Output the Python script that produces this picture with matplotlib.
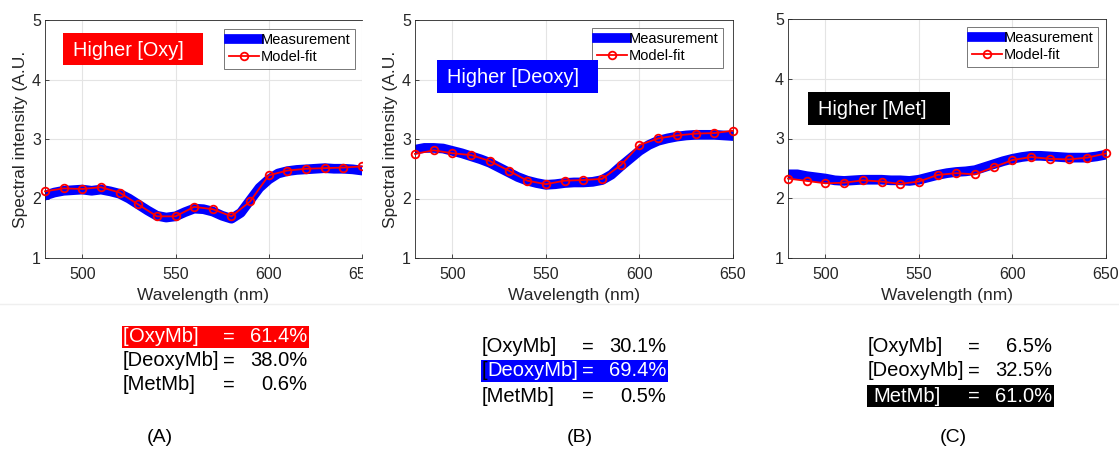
import matplotlib
matplotlib.use('Agg')
import matplotlib.pyplot as plt
from matplotlib.patches import Rectangle
from matplotlib.lines import Line2D
from matplotlib.text import Annotation

W, H, DPI = 1119, 453, 100
plt.rcParams['font.family'] = ['Liberation Sans', 'DejaVu Sans']

# Wavelength grids (nm)
wl_meas = list(range(480, 651, 5))
wl_fit = list(range(480, 651, 10))

# Measured spectra
meas_a = [2.05, 2.10, 2.13, 2.14, 2.15, 2.13, 2.15, 2.12, 2.08, 2.00, 1.90, 1.80,
          1.71, 1.68, 1.70, 1.77, 1.83, 1.82, 1.78, 1.71, 1.66, 1.76, 1.97, 2.18,
          2.32, 2.42, 2.46, 2.48, 2.49, 2.50, 2.51, 2.50, 2.50, 2.49, 2.47]
meas_b = [2.82, 2.85, 2.85, 2.84, 2.80, 2.76, 2.71, 2.66, 2.60, 2.52, 2.44, 2.36,
          2.30, 2.26, 2.23, 2.24, 2.26, 2.27, 2.27, 2.28, 2.31, 2.40, 2.54, 2.67,
          2.80, 2.90, 2.97, 3.01, 3.04, 3.06, 3.07, 3.07, 3.07, 3.06, 3.05]
meas_c = [2.40, 2.40, 2.37, 2.35, 2.33, 2.30, 2.29, 2.30, 2.31, 2.31, 2.31, 2.30,
          2.30, 2.29, 2.31, 2.35, 2.39, 2.42, 2.44, 2.45, 2.47, 2.52, 2.57, 2.62,
          2.66, 2.69, 2.71, 2.71, 2.70, 2.69, 2.68, 2.68, 2.68, 2.70, 2.73]

# Model-fit spectra
fit_a = [2.12, 2.17, 2.16, 2.19, 2.10, 1.90, 1.70, 1.70, 1.86, 1.82, 1.70, 1.95,
         2.39, 2.47, 2.50, 2.51, 2.52, 2.54]
fit_b = [2.75, 2.81, 2.76, 2.73, 2.63, 2.47, 2.30, 2.24, 2.30, 2.31, 2.33, 2.56,
         2.90, 3.01, 3.06, 3.09, 3.10, 3.14]
fit_c = [2.33, 2.29, 2.25, 2.26, 2.30, 2.28, 2.24, 2.28, 2.39, 2.42, 2.40, 2.52,
         2.64, 2.69, 2.66, 2.65, 2.68, 2.75]

x_ticks = [500, 550, 600, 650]
y_ticks = [1, 2, 3, 4, 5]

panel_titles = ['Higher [Oxy]', 'Higher [Deoxy]', 'Higher [Met]']
title_colors = ['#ff0000', '#0000ff', '#000000']
species = ['[OxyMb]', '[DeoxyMb]', '[MetMb]']
fractions_a = [61.4, 38.0, 0.6]
fractions_b = [30.1, 69.4, 0.5]
fractions_c = [6.5, 32.5, 61.0]
panel_tags = ['(A)', '(B)', '(C)']

measurements = [meas_a, meas_b, meas_c]
fits = [fit_a, fit_b, fit_c]
fractions = [fractions_a, fractions_b, fractions_c]
dominant = [0, 1, 2]
bracket_colors = ['white', 'black', 'black']

# layout in pixels
axes_px = [(45, 20, 362, 258), (415, 20, 733, 258), (788, 19, 1106, 258)]
title_box_px = [(63, 33, 203, 65), (437, 60, 598, 93), (808, 92, 950, 125)]
legend_px = [(355, 29), (723, 28), (1098, 27)]
table_x = [123, 482, 868]
table_rows = [[337, 361, 385], [347, 371, 396], [347, 371, 396]]
tag_px = [(160, 437), (580, 437), (953, 437)]
show_ylabel = [True, True, False]

fig = plt.figure(figsize=(W / DPI, H / DPI), dpi=DPI)


def fx(x):
    return x / W


def fy(y):
    return 1 - y / H


def add_rect(x0, y0, x1, y1, color, z=10):
    fig.add_artist(Rectangle((fx(x0), fy(y1)), (x1 - x0) / W, (y1 - y0) / H,
                             transform=fig.transFigure, facecolor=color,
                             edgecolor='none', zorder=z))


dark = '#262626'
for i in range(3):
    l, t, r, b = axes_px[i]
    ax = fig.add_axes([fx(l), fy(b), (r - l) / W, (b - t) / H])
    ax.plot(wl_meas, measurements[i], color='#0000ff', lw=7,
            solid_joinstyle='round', zorder=2, label='Measurement')
    ax.plot(wl_fit, fits[i], color='#ff0000', lw=1.3, marker='o', ms=5.5,
            mfc='none', mew=1.3, zorder=3, clip_on=False, label='Model-fit')
    ax.set_xlim(480, 650)
    ax.set_ylim(1, 5)
    ax.set_xticks(x_ticks)
    ax.set_yticks(y_ticks)
    ax.grid(True, color='#e4e4e4', lw=0.8)
    ax.set_axisbelow(True)
    ax.tick_params(direction='in', length=3, width=0.6, colors=dark,
                   labelsize=11.5)
    ax.tick_params(axis='x', pad=6.5)
    ax.tick_params(axis='y', pad=3)
    for s in ax.spines.values():
        s.set_color(dark)
        s.set_linewidth(0.6)
    if i == 0:
        ax.spines['right'].set_visible(False)
    ax.set_xlabel('Wavelength (nm)', fontsize=12.5, color=dark, labelpad=4.5)
    if show_ylabel[i]:
        ax.set_ylabel('Spectral intensity (A.U.', fontsize=12.5, color=dark,
                      labelpad=3)
    lx, ly = legend_px[i]
    leg = ax.legend(loc='upper right', bbox_to_anchor=(fx(lx), fy(ly)),
                    bbox_transform=fig.transFigure, fontsize=10.5,
                    frameon=True, fancybox=False, handlelength=2.1,
                    handletextpad=0.1, borderpad=0.3, labelspacing=0.2,
                    borderaxespad=0)
    leg.get_frame().set_edgecolor('#555555')
    leg.get_frame().set_linewidth(0.7)
    for txt in leg.get_texts():
        txt.set_color('black')

    # highlighted title box
    x0, y0, x1, y1 = title_box_px[i]
    add_rect(x0, y0, x1, y1, title_colors[i])
    fig.text(fx(x0 + 10), fy((y0 + y1) / 2 + 1), panel_titles[i], color='white',
             fontsize=14.3, ha='left', va='center', zorder=11)

    # composition table
    xl = table_x[i]
    for j, (name, val) in enumerate(zip(species, fractions[i])):
        yrow = table_rows[i][j]
        if j == dominant[i]:
            add_rect(xl - 1, yrow - 11, xl + 186, yrow + 11, title_colors[i])
            br = fig.text(fx(xl), fy(yrow), name[0], color=bracket_colors[i],
                          fontsize=14.5, ha='left', va='center', zorder=11)
            fig.add_artist(Annotation(
                name[1:], xy=(1, 0.5), xycoords=br, va='center', ha='left',
                color='white', fontsize=14.5, zorder=11))
            col = 'white'
        else:
            fig.text(fx(xl), fy(yrow), name, color='black', fontsize=14.5,
                     ha='left', va='center', zorder=11)
            col = 'black'
        fig.text(fx(xl + 106), fy(yrow), '=', color=col, fontsize=14.5,
                 ha='center', va='center', zorder=11)
        fig.text(fx(xl + 184), fy(yrow), f'{val:.1f}%', color=col,
                 fontsize=14.5, ha='right', va='center', zorder=11)

    tx, ty = tag_px[i]
    fig.text(fx(tx), fy(ty), panel_tags[i], color='black', fontsize=14,
             ha='center', va='center')

# first panel is cut at its right edge
add_rect(363, 0, 375, 300, 'white', z=20)
fig.add_artist(Line2D([0, 1], [fy(304), fy(304)], color='#efefef', lw=1,
                      transform=fig.transFigure, zorder=1))

fig.savefig('out.png', dpi=DPI)
